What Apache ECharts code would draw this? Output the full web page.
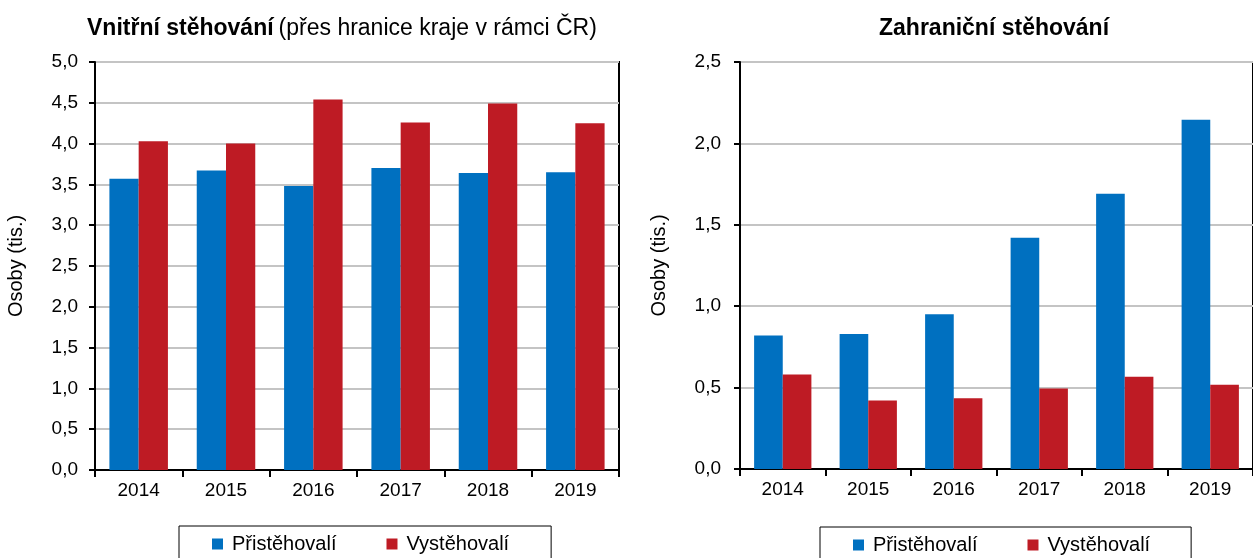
<!DOCTYPE html>
<html>
<head>
<meta charset="utf-8">
<script src="https://cdn.jsdelivr.net/npm/echarts@6/dist/echarts.min.js"></script>
<style>
  html, body { margin: 0; padding: 0; background: #fff; }
  #chart { width: 1253px; height: 558px; }
</style>
</head>
<body>
<div id="chart"></div>
<script>
// roky a hodnoty (tis. osob)
var years = ['2014', '2015', '2016', '2017', '2018', '2019'];
var seriesNames = ['Přistěhovalí', 'Vystěhovalí'];
var vnitrniPrist = [3.57, 3.67, 3.48, 3.70, 3.64, 3.65];
var vnitrniVyst = [4.03, 4.00, 4.54, 4.26, 4.49, 4.25];
var zahrPrist = [0.82, 0.83, 0.95, 1.42, 1.69, 2.145];
var zahrVyst = [0.58, 0.42, 0.435, 0.494, 0.567, 0.518];

var BLUE = '#0070c0';
var RED = '#be1b24';
var FONT = '"Liberation Sans", Arial, sans-serif';

var chart = echarts.init(document.getElementById('chart'));

function fmt(v) {
    return v.toFixed(1).replace('.', ',');
}

function yAxisDef(idx, max, gap, margin) {
    return {
        gridIndex: idx,
        type: 'value',
        min: 0,
        max: max,
        interval: 0.5,
        name: 'Osoby (tis.)',
        nameLocation: 'middle',
        nameGap: gap,
        nameTextStyle: { color: '#000', fontSize: 20, fontFamily: FONT },
        axisLine: { show: true, lineStyle: { color: '#000', width: 2 } },
        axisTick: { show: true, length: 6, lineStyle: { color: '#000', width: 2 } },
        axisLabel: { color: '#000', fontSize: 19, fontFamily: FONT, margin: margin, formatter: fmt },
        splitLine: { show: true, lineStyle: { color: '#c4c4c4', width: 2 } }
    };
}

function xAxisDef(idx) {
    return {
        gridIndex: idx,
        type: 'category',
        data: years,
        axisLine: { show: true, lineStyle: { color: '#000', width: 2 } },
        axisTick: { show: true, length: 7, lineStyle: { color: '#000', width: 2 } },
        axisLabel: { color: '#000', fontSize: 19, fontFamily: FONT, margin: 11 }
    };
}

function barDef(name, idx, data, color) {
    return {
        name: name,
        type: 'bar',
        xAxisIndex: idx,
        yAxisIndex: idx,
        data: data,
        barGap: '0%',
        barCategoryGap: '33%',
        itemStyle: { color: color },
        emphasis: { disabled: true }
    };
}

function legendDef(left, top, padRight) {
    return {
        left: left,
        top: top,
        orient: 'horizontal',
        data: seriesNames,
        icon: 'rect',
        itemWidth: 11,
        itemHeight: 11,
        itemGap: 50,
        padding: [8, padRight, 14, 33],
        borderColor: '#000',
        borderWidth: 1,
        textStyle: { color: '#000', fontSize: 20, fontFamily: FONT, padding: [0, 0, 0, 4] }
    };
}

var option = {
    animation: false,
    backgroundColor: '#fff',
    title: [
        {
            text: '{b|Vnitřní stěhování} {n|(přes hranice kraje v rámci ČR)}',
            left: 82,
            top: 12,
            textStyle: {
                rich: {
                    b: { fontSize: 23, fontWeight: 'bold', color: '#000', fontFamily: FONT },
                    n: { fontSize: 23, fontWeight: 'normal', color: '#000', fontFamily: FONT }
                }
            }
        },
        {
            text: 'Zahraniční stěhování',
            left: 874,
            top: 12,
            textStyle: { fontSize: 23, fontWeight: 'bold', color: '#000', fontFamily: FONT }
        }
    ],
    legend: [
        legendDef(179, 526, 42),
        legendDef(820, 527, 41)
    ],
    grid: [
        { left: 95, right: 634, top: 62, bottom: 88, show: true, borderColor: '#000', borderWidth: 2 },
        { left: 740, right: -8, top: 62, bottom: 89, show: true, borderColor: '#000', borderWidth: 2 }
    ],
    xAxis: [xAxisDef(0), xAxisDef(1)],
    yAxis: [yAxisDef(0, 5, 69, 17), yAxisDef(1, 2.5, 71, 19)],
    series: [
        barDef(seriesNames[0], 0, vnitrniPrist, BLUE),
        barDef(seriesNames[1], 0, vnitrniVyst, RED),
        barDef(seriesNames[0], 1, zahrPrist, BLUE),
        barDef(seriesNames[1], 1, zahrVyst, RED)
    ]
};

chart.setOption(option);
</script>
</body>
</html>
